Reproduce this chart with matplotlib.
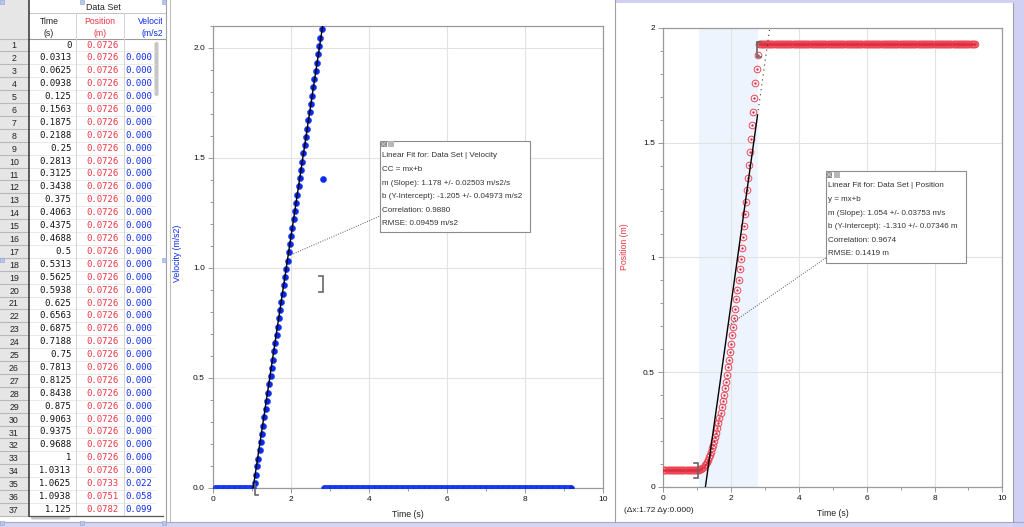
import numpy as np
import matplotlib.pyplot as plt
from matplotlib.patches import Rectangle, FancyBboxPatch
from matplotlib.ticker import MultipleLocator, FormatStrFormatter, FuncFormatter
from decimal import Decimal, ROUND_HALF_UP

plt.rcParams['font.family'] = ['Liberation Sans', 'DejaVu Sans']

W, H = 1024, 527

# ---- data set: cart on a track, sampled every 1/32 s ----
DT = 0.03125
n_samples = 295

pos_rest = 0.0726
pos_rise = [0.0733, 0.0751, 0.0782, 0.0818, 0.0866, 0.0926, 0.0997, 0.1080, 0.1175, 0.1282,
            0.1400, 0.1530, 0.1672, 0.1825, 0.1990, 0.2167, 0.2356, 0.2556, 0.2769, 0.2992,
            0.3228, 0.3475, 0.3734, 0.4005, 0.4288, 0.4582, 0.4888, 0.5205, 0.5535, 0.5876,
            0.6229, 0.6593, 0.6970, 0.7358, 0.7757, 0.8169, 0.8592, 0.9027, 0.9474, 0.9932,
            1.0402, 1.0884, 1.1378, 1.1883, 1.2400, 1.2929, 1.3469, 1.4022, 1.4586, 1.5161,
            1.5749, 1.6348, 1.6959, 1.7581, 1.8214, 1.8820]
pos_end = 1.929

vel_rise = [0.022, 0.058, 0.099, 0.134, 0.172, 0.209, 0.247, 0.284, 0.322, 0.358,
            0.397, 0.434, 0.471, 0.509, 0.546, 0.584, 0.621, 0.659, 0.696, 0.734,
            0.771, 0.809, 0.846, 0.884, 0.921, 0.959, 0.996, 1.034, 1.071, 1.109,
            1.146, 1.184, 1.221, 1.259, 1.296, 1.334, 1.371, 1.409, 1.446, 1.484,
            1.521, 1.559, 1.596, 1.634, 1.671, 1.709, 1.746, 1.784, 1.821, 1.859,
            1.896, 1.934, 1.971, 2.009, 2.046, 2.086]
vel_stop = 1.405

n_rest = 34
time = np.arange(n_samples) * DT
position = np.array([pos_rest] * n_rest + pos_rise + [pos_end] * (n_samples - n_rest - len(pos_rise)))
velocity = np.array([np.nan] + [0.0] * (n_rest - 1) + vel_rise + [vel_stop]
                    + [0.0] * (n_samples - n_rest - len(vel_rise) - 1))

# linear fits reported by Logger Pro
sel_t0, sel_t1 = 1.06, 2.78
vel_m, vel_b = 1.178, -1.205
pos_m, pos_b = 1.054, -1.310
vel_fit_text = ["Linear Fit for: Data Set | Velocity", "CC = mx+b",
                "m (Slope): 1.178 +/- 0.02503 m/s2/s", "b (Y-Intercept): -1.205 +/- 0.04973 m/s2",
                "Correlation: 0.9880", "RMSE: 0.09459 m/s2"]
pos_fit_text = ["Linear Fit for: Data Set | Position", "y = mx+b",
                "m (Slope): 1.054 +/- 0.03753 m/s", "b (Y-Intercept): -1.310 +/- 0.07346 m",
                "Correlation: 0.9674", "RMSE: 0.1419 m"]
delta_text = "(\u0394x:1.72 \u0394y:0.000)"
table_rows = 37

RED = '#ec3442'
BLUE = '#0a2ae8'


def px_axes(fig, left, top, right, bottom, **kw):
    return fig.add_axes([left / W, 1 - bottom / H, (right - left) / W, (bottom - top) / H], **kw)


def fmt_time(t):
    s = str(Decimal(t).quantize(Decimal('0.0001'), rounding=ROUND_HALF_UP))
    return s.rstrip('0').rstrip('.') if '.' in s else s


def style_axes(ax, ylim, ymajor, yfmt):
    ax.set_xlim(0, 10)
    ax.set_ylim(*ylim)
    ax.xaxis.set_major_locator(MultipleLocator(2))
    ax.xaxis.set_minor_locator(MultipleLocator(1))
    ax.yaxis.set_major_locator(MultipleLocator(ymajor))
    ax.yaxis.set_minor_locator(MultipleLocator(0.1))
    ax.yaxis.set_major_formatter(yfmt)
    ax.grid(True, which='major', color='#e2e2e2', lw=0.8)
    ax.set_axisbelow(True)
    for s in ax.spines.values():
        s.set_color('#9a9a9a')
        s.set_linewidth(0.9)
    ax.tick_params(which='both', direction='out', color='#999999', width=0.7,
                   labelsize=6, pad=2.5, labelcolor='#111111')
    ax.tick_params(which='major', length=3.5)
    ax.tick_params(which='minor', length=2.5)


def bracket(ax, x, y0, y1, side, w=4):
    d = -w if side == ']' else w
    ax.plot([x + d, x, x, x + d], [y0, y0, y1, y1], color='#666666', lw=1.2,
            solid_joinstyle='miter', zorder=12)


def fit_box(ax, left, top, right, bottom, lines, y_lines):
    ax.add_patch(Rectangle((left, top), right - left, bottom - top, facecolor='white',
                           edgecolor='#8c8c8c', lw=0.8, zorder=11))
    ax.add_patch(Rectangle((left + 0.5, top + 0.5), 6, 6, facecolor='#8d8d8d', edgecolor='none', zorder=12))
    ax.plot([left + 1.5, left + 5.5], [top + 1.5, top + 5.5], color='#dddddd', lw=0.5, zorder=13)
    ax.plot([left + 1.5, left + 5.5], [top + 5.5, top + 1.5], color='#dddddd', lw=0.5, zorder=13)
    ax.add_patch(Rectangle((left + 8, top + 0.5), 6, 6, facecolor='#b8b8b8', edgecolor='none', zorder=12))
    for s, y in zip(lines, y_lines):
        ax.text(left + 2.5, y, s, fontsize=5.8, color='#333333', va='center', ha='left', zorder=12)


fig = plt.figure(figsize=(W / 100, H / 100), dpi=100)
fig.patch.set_facecolor('white')

# ---- background layer: table and window borders ----
bg = fig.add_axes([0, 0, 1, 1], zorder=0)
bg.set_xlim(0, W)
bg.set_ylim(H, 0)
bg.axis('off')

row_h = 12.9
row_y0 = 45.0
bg.add_patch(Rectangle((0, 0), 28.5, 516, facecolor='#e6e6e6', edgecolor='none'))
for r in range(table_rows):
    yc = row_y0 + r * row_h
    bg.plot([0, 28.5], [yc + row_h / 2, yc + row_h / 2], color='#b8b8b8', lw=0.8)
    bg.plot([28.5, 155], [yc + row_h / 2, yc + row_h / 2], color='#e6e6e6', lw=0.6)
    bg.text(14, yc + 1, str(r + 1), fontsize=6.3, color='#222222', ha='center', va='center')
    t = time[r]
    bg.text(71.5, yc, fmt_time(t), fontsize=6.4, family='DejaVu Sans Mono', color='#111111',
            ha='right', va='center')
    bg.text(118.5, yc, f"{position[r]:.4f}", fontsize=6.4, family='DejaVu Sans Mono', color=RED,
            ha='right', va='center')
    if not np.isnan(velocity[r]):
        bg.text(152, yc, f"{velocity[r]:.3f}", fontsize=6.4, family='DejaVu Sans Mono', color=BLUE,
                ha='right', va='center')

bg.plot([0, 28.5], [38.5, 38.5], color='#b8b8b8', lw=0.8)
bg.plot([28.5, 165], [12.5, 12.5], color='#c4c4c4', lw=0.7)
bg.plot([28.5, 165], [38.5, 38.5], color='#999999', lw=0.8)
for xc in (76, 124):
    bg.plot([xc, xc], [12.5, 515], color='#d4d4d4', lw=0.7)
bg.plot([28.5, 28.5], [0, 516], color='#333333', lw=1.1)
bg.plot([28.5, 163], [515.5, 515.5], color='#555555', lw=0.9)
bg.plot([165.5, 165.5], [0, 522], color='#a0a0a0', lw=0.8)
bg.plot([169.5, 169.5], [0, 522], color='#c0c0c0', lw=0.8)

bg.text(103, 7, "Data Set", fontsize=6.4, color='#222222', ha='center', va='center')
bg.text(49, 21.5, "Time", fontsize=6.2, color='#222222', ha='center', va='center')
bg.text(49, 33.5, "(s)", fontsize=6.2, color='#222222', ha='center', va='center')
bg.text(100, 21.5, "Position", fontsize=6.2, color=RED, ha='center', va='center')
bg.text(100, 33.5, "(m)", fontsize=6.2, color=RED, ha='center', va='center')
clip = Rectangle((124, 0), 38, 40, transform=bg.transData, facecolor='none', edgecolor='none')
bg.add_patch(clip)
for s, y, x in (("Velocity", 21.5, 138.3), ("(m/s2)", 33.5, 141.7)):
    tx = bg.text(x, y, s, fontsize=6.2, color=BLUE, ha='left', va='center', clip_on=True)
    tx.set_clip_path(clip)
    tx.set_clip_on(True)

bg.add_patch(FancyBboxPatch((154.5, 42), 4, 54, boxstyle='round,pad=0,rounding_size=2',
                            facecolor='#c6c6c6', edgecolor='none'))
bg.add_patch(FancyBboxPatch((31, 516), 39, 3.5, boxstyle='round,pad=0,rounding_size=1.7',
                            facecolor='#c6c6c6', edgecolor='none'))
for hx, hy in ((0, 0), (80, 0), (162, 0), (0, 258), (162, 258), (0, 521), (80, 521), (162, 521)):
    bg.add_patch(Rectangle((hx, hy), 4, 4, facecolor='#b8c8ec', edgecolor='#8aa0d0', lw=0.4, zorder=3))

# window borders
bg.add_patch(Rectangle((0, 521.5), W, 6, facecolor='#d6d6f4', edgecolor='none'))
bg.plot([0, W], [521.5, 521.5], color='#a8a8c8', lw=0.8)
bg.add_patch(Rectangle((615, 0), W - 615, 3, facecolor='#d0d0f4', edgecolor='none'))
bg.add_patch(Rectangle((1013, 0), 11, H, facecolor='#d0d0f4', edgecolor='none'))
bg.plot([1013, 1013], [3, 521.5], color='#a0a0a0', lw=0.8)
bg.plot([615, 615], [0, 521.5], color='#a0a0a0', lw=0.8)

# ---- velocity graph ----
axv = px_axes(fig, 213.3, 26, 603, 488, zorder=1)
axv.set_facecolor('white')
style_axes(axv, (0, 2.1), 0.5, FormatStrFormatter('%.1f'))
axv.plot(time, velocity, 'o', color=BLUE, ms=4.4, mec='#2a48f4', mew=0.4, zorder=3)
tv = np.array([0.9, 2.9])
axv.plot(tv, vel_m * tv + vel_b, color='black', lw=1.0, zorder=4)

# ---- position graph ----
axp = px_axes(fig, 663.3, 28, 1002.3, 486.7, zorder=1)
axp.set_facecolor('white')
style_axes(axp, (0, 2), 0.5, FuncFormatter(lambda v, p: f"{v:g}"))
axp.axvspan(sel_t0, sel_t1, color='#eef4fd', lw=0, zorder=0.2)
axp.plot(time, position, 'o', mfc='none', mec='#ee4654', ms=4.8, mew=0.7, zorder=3)
axp.plot(time, position, '.', color='#d83040', ms=1.4, zorder=3)
t_solid = np.array([-pos_b / pos_m, sel_t1])
axp.plot(t_solid, pos_m * t_solid + pos_b, color='black', lw=1.0, zorder=4)
t_dot = np.array([sel_t1, 3.3])
axp.plot(t_dot, pos_m * t_dot + pos_b, color='#333333', lw=0.8, ls=(0, (1, 3.5)), zorder=4)

# ---- overlay: labels, fit boxes, brackets ----
ov = fig.add_axes([0, 0, 1, 1], zorder=10)
ov.set_xlim(0, W)
ov.set_ylim(H, 0)
ov.axis('off')
ov.patch.set_alpha(0)

ov.text(408, 514.5, "Time (s)", fontsize=6.3, color='#222222', ha='center', va='center')
ov.text(833, 513.5, "Time (s)", fontsize=6.3, color='#222222', ha='center', va='center')
ov.text(177.5, 253, "Velocity (m/s2)", fontsize=6.3, color=BLUE, rotation=90, ha='center', va='center')
ov.text(624.5, 247, "Position (m)", fontsize=6.3, color=RED, rotation=90, ha='center', va='center')
ov.text(624, 511, delta_text, fontsize=6.0, color='#222222', ha='left', va='center')

ov.plot([289, 380], [255.7, 216], color='#555555', lw=0.7, ls=(0, (1, 1.5)), zorder=10)
fit_box(ov, 380, 140.7, 530, 232, vel_fit_text, [155.7, 169.7, 183.5, 196.7, 210, 223.7])
ov.plot([729, 825.7], [325, 258], color='#555555', lw=0.7, ls=(0, (1, 1.5)), zorder=10)
fit_box(ov, 825.7, 171, 966, 262.7, pos_fit_text, [185.7, 199.7, 213.5, 226.7, 240, 253.3])

ov.plot([254.5, 254.5, 258], [484, 495, 495], color='#666666', lw=1.2, zorder=12)
bracket(ov, 323, 276, 291.7, ']')
bracket(ov, 698, 462.7, 478.3, ']')
bracket(ov, 756.5, 41.7, 56.7, '[')

fig.savefig('out.png', dpi=100)
